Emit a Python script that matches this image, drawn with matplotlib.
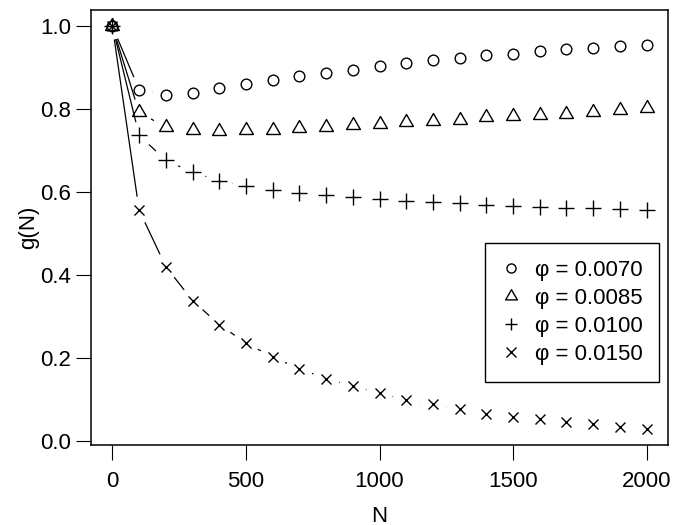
import numpy as np
import matplotlib
matplotlib.use("Agg")
import matplotlib.pyplot as plt
from matplotlib.path import Path

plt.rcParams['font.family'] = ['Liberation Sans', 'DejaVu Sans']

# chain length N and g(N) for each phi
N = [0, 100, 200, 300, 400, 500, 600, 700, 800, 900, 1000,
     1100, 1200, 1300, 1400, 1500, 1600, 1700, 1800, 1900, 2000]
g_0070 = [1.0, 0.847, 0.835, 0.840, 0.850, 0.860, 0.870, 0.879, 0.888, 0.895, 0.903,
          0.911, 0.918, 0.924, 0.930, 0.934, 0.939, 0.944, 0.948, 0.951, 0.954]
g_0085 = [1.0, 0.792, 0.757, 0.749, 0.747, 0.749, 0.750, 0.754, 0.757, 0.762, 0.765,
          0.768, 0.772, 0.775, 0.780, 0.783, 0.786, 0.789, 0.793, 0.797, 0.803]
g_0100 = [1.0, 0.737, 0.677, 0.648, 0.628, 0.615, 0.606, 0.599, 0.593, 0.588, 0.583,
          0.579, 0.576, 0.573, 0.570, 0.567, 0.565, 0.563, 0.561, 0.559, 0.557]
g_0150 = [1.0, 0.557, 0.421, 0.339, 0.281, 0.237, 0.203, 0.175, 0.151, 0.133, 0.116,
          0.100, 0.089, 0.077, 0.067, 0.059, 0.053, 0.047, 0.041, 0.035, 0.030]
labels = ['\u03c6 = 0.0070', '\u03c6 = 0.0085', '\u03c6 = 0.0100', '\u03c6 = 0.0150']

tri = Path([(0, 1), (-0.866, -0.5), (0.866, -0.5), (0, 1)], closed=True)
markers = ['o', tri, '+', 'x']
msizes = [7.7, 11.5, 11.0, 7.7]
series = [g_0070, g_0085, g_0100, g_0150]
fs = 16

W, H = 673, 525
fig = plt.figure(figsize=(W / 100, H / 100), dpi=100)
ax = fig.add_axes([91 / W, (H - 445) / H, (668 - 91) / W, (445 - 10) / H])

# R style limits (4% padding)
allg = np.concatenate([np.array(s) for s in series])
rx = max(N) - min(N)
ry = allg.max() - allg.min()
ax.set_xlim(min(N) - 0.04 * rx, max(N) + 0.04 * rx)
ax.set_ylim(allg.min() - 0.04 * ry, allg.max() + 0.04 * ry)


def b_lines(ax, x, y, gap=13.5):
    # like R type="b": segments leave a gap around each point
    pts = ax.transData.transform(np.column_stack([x, y]))
    inv = ax.transData.inverted()
    for p0, p1 in zip(pts[:-1], pts[1:]):
        d = p1 - p0
        L = np.hypot(d[0], d[1])
        if L <= 2 * gap:
            continue
        seg = inv.transform([p0 + d * gap / L, p1 - d * gap / L])
        ax.plot(seg[:, 0], seg[:, 1], color='black', lw=0.9, solid_capstyle='butt')


for s, m, ms, lab in zip(series, markers, msizes, labels):
    b_lines(ax, N, s)
    ax.plot(N, s, linestyle='none', marker=m, ms=ms, mfc='none', mec='black',
            mew=1.0, label=lab)

for sp in ax.spines.values():
    sp.set_linewidth(1.1)

ax.set_xticks([0, 500, 1000, 1500, 2000])
ax.set_yticks([0.0, 0.2, 0.4, 0.6, 0.8, 1.0])
ax.set_yticklabels(['0.0', '0.2', '0.4', '0.6', '0.8', '1.0'])
ax.tick_params(axis='both', direction='out', length=10.5, width=0.8, labelsize=fs)
ax.tick_params(axis='x', pad=8)
ax.tick_params(axis='y', pad=3.8)

ax.set_xlabel('N', fontsize=fs)
ax.xaxis.label.set_va('center')
ax.xaxis.set_label_coords(0.5, (445 - 516) / 435)
ax.set_ylabel('g(N)', fontsize=fs)
ax.yaxis.label.set_va('center')
ax.yaxis.set_label_coords((29 - 91) / 577, 0.5)

leg = ax.legend(loc='upper right', bbox_to_anchor=((659 - 91) / 577, (445 - 243) / 435),
                borderaxespad=0, fontsize=fs, fancybox=False, framealpha=1,
                edgecolor='black', handlelength=0.9, handletextpad=0.6,
                labelspacing=0.32, borderpad=0.75, markerscale=0.85)
leg.get_frame().set_linewidth(1.0)

fig.savefig('out.png', dpi=100)
